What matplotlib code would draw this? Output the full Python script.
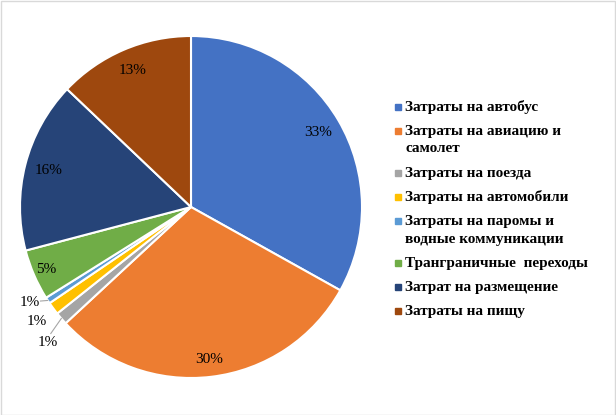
import matplotlib
matplotlib.use('Agg')
from matplotlib import pyplot as plt
from matplotlib.patches import Rectangle
import numpy as np

labels = ['Затраты на автобус',
          'Затраты на авиацию и\nсамолет',
          'Затраты на поезда',
          'Затраты на автомобили',
          'Затраты на паромы и\nводные коммуникации',
          'Транграничные  переходы',
          'Затрат на размещение',
          'Затраты на пищу']
values = [33.1, 30.0, 1.2, 1.2, 0.6, 4.8, 16.2, 12.9]
pct_labels = ['33%', '30%', '1%', '1%', '1%', '5%', '16%', '13%']
colors = ['#4472C4', '#ED7D31', '#A5A5A5', '#FFC000',
          '#5B9BD5', '#70AD47', '#264478', '#9E480E']

W, H = 616, 415
fig = plt.figure(figsize=(W / 100, H / 100), dpi=100)

# pie centre (191, 207) px, radius 171 px
cx, cy, r = 191, 207, 171
ax = fig.add_axes([(cx - r) / W, (H - cy - r) / H, 2 * r / W, 2 * r / H])
wedges, _ = ax.pie(values, colors=colors, startangle=90, counterclock=False,
                   radius=1, wedgeprops=dict(edgecolor='white', linewidth=1.5))
ax.set_xlim(-1, 1)
ax.set_ylim(-1, 1)

lab_font = dict(family='Liberation Serif', fontsize=11, color='black')
label_r = {0: 0.86, 1: 0.9, 5: 0.92, 6: 0.86, 7: 0.87}
for i, w in enumerate(wedges):
    mid = np.deg2rad((w.theta1 + w.theta2) / 2)
    if i in label_r:
        rr = label_r[i]
        ax.text(rr * np.cos(mid), rr * np.sin(mid), pct_labels[i],
                ha='center', va='center', **lab_font)

# small slices with leader lines: train, car, ferries
small_pos = {4: (-0.94, -0.56), 3: (-0.90, -0.67), 2: (-0.84, -0.79)}
for i, (tx, ty) in small_pos.items():
    w = wedges[i]
    mid = np.deg2rad((w.theta1 + w.theta2) / 2)
    ax.text(tx, ty, pct_labels[i], ha='center', va='center', **lab_font)
    if i == 4:
        ax.plot([tx + 0.06, np.cos(mid)], [ty + 0.01, np.sin(mid)],
                color='#A6A6A6', lw=0.8)
    if i == 2:
        ax.plot([tx + 0.02, np.cos(mid)], [ty + 0.05, np.sin(mid)],
                color='#A6A6A6', lw=0.8)

# legend drawn by hand
y = 107
for lab, col in zip(labels, colors):
    fig.patches.append(Rectangle(((398 - 3) / W, (H - y - 3) / H), 6 / W, 6 / H,
                                 transform=fig.transFigure, color=col))
    for k, line in enumerate(lab.split('\n')):
        fig.text(405 / W, (H - y - 18 * k) / H, line, ha='left', va='center',
                 family='Liberation Serif', fontweight='bold', fontsize=11,
                 color='black')
    y += 18 * len(lab.split('\n')) + 6

# outer frame
fig.patches.append(Rectangle((0.5 / W, 0.5 / H), (W - 1.5) / W, (H - 1.5) / H,
                             transform=fig.transFigure, fill=False,
                             edgecolor='#D9D9D9', lw=1))

fig.savefig('out.png', dpi=100)
